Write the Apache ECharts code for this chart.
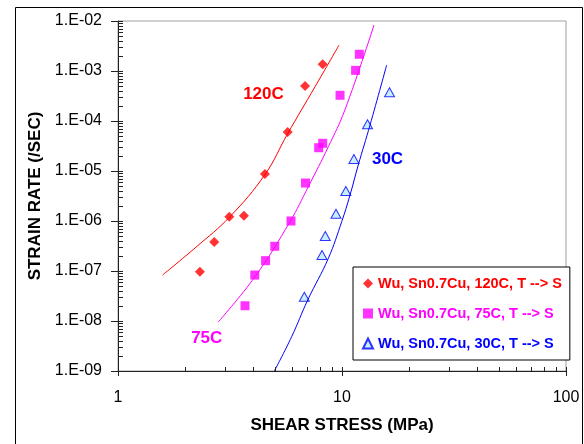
<!DOCTYPE html>
<html>
<head>
<meta charset="utf-8">
<script src="https://cdn.jsdelivr.net/npm/echarts@6/dist/echarts.min.js"></script>
<style>
  html, body { margin: 0; padding: 0; background: #fff; }
  #chart { width: 584px; height: 444px; }
</style>
</head>
<body>
<div id="chart"></div>
<script>
// Measured creep data: shear stress (MPa) vs. strain rate (1/s)
const stress120 = [2.32, 2.69, 3.14, 3.65, 4.53, 5.72, 6.84, 8.2];
const rate120   = [9.7e-8, 3.8e-7, 1.22e-6, 1.28e-6, 8.7e-6, 6.0e-5, 5.0e-4, 1.36e-3];

const stress75 = [3.69, 4.08, 4.56, 5.01, 5.92, 6.87, 7.87, 8.2, 9.8, 11.5, 11.95];
const rate75   = [2.02e-8, 8.3e-8, 1.61e-7, 3.12e-7, 1.0e-6, 5.75e-6, 2.92e-5, 3.58e-5, 3.27e-4, 1.03e-3, 2.16e-3];

const stress30 = [6.79, 8.14, 8.42, 9.4, 10.4, 11.3, 13.0, 16.3];
const rate30   = [3.06e-8, 2.09e-7, 5.0e-7, 1.4e-6, 3.98e-6, 1.74e-5, 8.6e-5, 3.75e-4];

// Fitted constitutive curves
const fitStress120 = [1.58, 2.23, 3.16, 4.53, 5.71, 7.58, 9.70];
const fitRate120   = [8.3e-8, 3.0e-7, 1.22e-6, 8.5e-6, 5.5e-5, 4.85e-4, 3.3e-3];

const fitStress75 = [2.80, 4.09, 5.86, 7.07, 8.69, 10.3, 13.9];
const fitRate75   = [9.5e-9, 7.7e-8, 9.7e-7, 4.85e-6, 3.06e-5, 1.66e-4, 8.3e-3];

const fitStress30 = [4.99, 5.96, 7.03, 8.69, 9.97, 10.86, 11.82, 13.34, 15.83];
const fitRate30   = [1e-9, 4.85e-9, 2.63e-8, 1.79e-7, 9.7e-7, 3.3e-6, 1.32e-5, 8.3e-5, 1.32e-3];

// Series names and curve labels (label anchor in data units)
const seriesNames = ['Wu, Sn0.7Cu, 120C, T --> S', 'Wu, Sn0.7Cu, 75C, T --> S', 'Wu, Sn0.7Cu, 30C, T --> S'];
const curveLabels = ['120C', '75C', '30C'];
const curveLabelStress = [4.46, 2.49, 15.97];
const curveLabelRate = [3.47e-4, 4.57e-9, 1.74e-5];

// Axis ticks
const xTickValues = [1, 10, 100];
const xTickLabels = ['1', '10', '100'];
const yTickValues = [1e-9, 1e-8, 1e-7, 1e-6, 1e-5, 1e-4, 1e-3, 1e-2];
const yTickLabels = ['1.E-09', '1.E-08', '1.E-07', '1.E-06', '1.E-05', '1.E-04', '1.E-03', '1.E-02'];

const X_MIN = 1, X_MAX = 100, Y_MIN = 1e-9, Y_MAX = 1e-2;

const RED = '#ff0000', MAGENTA = '#ff00ff', BLUE = '#0000ff';
const FONT = "'Liberation Sans', Arial, sans-serif";

function pairs(xs, ys) { return xs.map((x, i) => [x, ys[i]]); }

// Tick marks for a log axis: [value, isMajor] at 1..9 of every decade
function logTicks(min, max) {
  const out = [];
  const lo = Math.round(Math.log10(min)), hi = Math.round(Math.log10(max));
  for (let e = lo; e < hi; e++) {
    for (let k = 1; k <= 9; k++) out.push([+(k * Math.pow(10, e)).toPrecision(6), k === 1 ? 1 : 0]);
  }
  out.push([Math.pow(10, hi), 1]);
  return out;
}

// kind: 0 = x minor, 1 = x major, 2 = y minor, 3 = y major
const tickData = []
  .concat(logTicks(X_MIN, X_MAX).map(t => [t[0], Y_MIN, t[1]]))
  .concat(logTicks(Y_MIN, Y_MAX).map(t => [X_MIN, t[0], 2 + t[1]]));

function pickLabel(values, labels) {
  return function (v) {
    let best = 0, bd = Infinity;
    values.forEach((t, i) => {
      const d = Math.abs(Math.log10(v) - Math.log10(t));
      if (d < bd) { bd = d; best = i; }
    });
    return bd < 0.01 ? labels[best] : '';
  };
}

function renderTick(params, api) {
  const p = api.coord([api.value(0), api.value(1)]);
  const kind = api.value(2);
  const style = { stroke: '#222', lineWidth: 1 };
  if (kind < 2) {
    const x = Math.round(p[0]) + 0.5, y = Math.round(p[1]);
    const out = kind === 1 ? 5 : 0;
    return { type: 'line', shape: { x1: x, y1: y - 4, x2: x, y2: y + out }, style: style, silent: true };
  }
  const x = Math.round(p[0]), y = Math.round(p[1]) + 0.5;
  const out = kind === 3 ? 7 : 0;
  return { type: 'line', shape: { x1: x - out, y1: y, x2: x + 5, y2: y }, style: style, silent: true };
}

const chart = echarts.init(document.getElementById('chart'));

const labelColors = [RED, MAGENTA, BLUE];
function curveMark(i) {
  return {
    symbol: 'rect',
    symbolSize: 1,
    itemStyle: { color: 'rgba(0,0,0,0)' },
    label: {
      show: true, position: 'inside', color: labelColors[i],
      fontFamily: FONT, fontWeight: 'bold', fontSize: 17,
      formatter: curveLabels[i]
    },
    data: [{ coord: [curveLabelStress[i], curveLabelRate[i]] }],
    animation: false
  };
}

const option = {
  animation: false,
  backgroundColor: '#fff',
  textStyle: { fontFamily: FONT },
  grid: {
    left: 118, right: 18, top: 21, bottom: 73,
    show: true, borderColor: '#a0a0a0', borderWidth: 1
  },
  graphic: [{
    type: 'rect', silent: true,
    shape: { x: 15.5, y: 7.5, width: 567, height: 460 },
    style: { fill: 'none', stroke: '#000', lineWidth: 1 }
  }],
  legend: {
    orient: 'vertical', left: 353, top: 267,
    padding: [9, 8, 9, 9], itemGap: 15, itemWidth: 10, itemHeight: 10,
    borderColor: '#000', borderWidth: 1, backgroundColor: '#fff',
    selectedMode: false,
    data: [
      { name: seriesNames[0], textStyle: { color: RED } },
      { name: seriesNames[1], textStyle: { color: MAGENTA } },
      { name: seriesNames[2], textStyle: { color: BLUE } }
    ],
    textStyle: { fontFamily: FONT, fontWeight: 'bold', fontSize: 14.5 }
  },
  xAxis: {
    type: 'log', logBase: 10, min: X_MIN, max: X_MAX, interval: 1, position: 'bottom',
    name: 'SHEAR STRESS (MPa)', nameLocation: 'middle', nameGap: 46,
    nameTextStyle: { fontFamily: FONT, fontWeight: 'bold', fontSize: 17, color: '#000' },
    axisLine: { show: true, lineStyle: { color: '#222', width: 1 } },
    axisTick: { show: false },
    axisLabel: { show: true, margin: 19, fontSize: 16, color: '#000',
      formatter: pickLabel(xTickValues, xTickLabels) },
    splitLine: { show: false }
  },
  yAxis: {
    type: 'log', logBase: 10, min: Y_MIN, max: Y_MAX, interval: 1, position: 'left',
    name: 'STRAIN RATE (/SEC)', nameLocation: 'middle', nameGap: 68, nameRotate: 90,
    nameTextStyle: { fontFamily: FONT, fontWeight: 'bold', fontSize: 17, color: '#000' },
    axisLine: { show: true, lineStyle: { color: '#222', width: 1 } },
    axisTick: { show: false },
    axisLabel: { show: true, margin: 16, fontSize: 16, color: '#000',
      formatter: pickLabel(yTickValues, yTickLabels) },
    splitLine: { show: false }
  },
  series: [
    {
      name: 'axisTicks', type: 'custom', data: tickData, renderItem: renderTick,
      clip: false, silent: true, z: 5, tooltip: { show: false }
    },
    {
      name: 'fit120', type: 'line', data: pairs(fitStress120, fitRate120),
      showSymbol: false, symbol: 'none', smooth: 0.4,
      lineStyle: { color: RED, width: 1 }, markPoint: curveMark(0)
    },
    {
      name: 'fit75', type: 'line', data: pairs(fitStress75, fitRate75),
      showSymbol: false, symbol: 'none', smooth: 0.4,
      lineStyle: { color: MAGENTA, width: 1 }, markPoint: curveMark(1)
    },
    {
      name: 'fit30', type: 'line', data: pairs(fitStress30, fitRate30),
      showSymbol: false, symbol: 'none', smooth: 0.4,
      lineStyle: { color: BLUE, width: 1 }, markPoint: curveMark(2)
    },
    {
      name: seriesNames[0], type: 'scatter', data: pairs(stress120, rate120),
      symbol: 'diamond', symbolSize: 10,
      itemStyle: { color: RED }
    },
    {
      name: seriesNames[1], type: 'scatter', data: pairs(stress75, rate75),
      symbol: 'rect', symbolSize: 9,
      itemStyle: { color: MAGENTA }
    },
    {
      name: seriesNames[2], type: 'scatter', data: pairs(stress30, rate30),
      symbol: 'triangle', symbolSize: [10, 9],
      itemStyle: { color: '#b8ecff', borderColor: BLUE, borderWidth: 1 }
    }
  ]
};

chart.setOption(option);
</script>
</body>
</html>
